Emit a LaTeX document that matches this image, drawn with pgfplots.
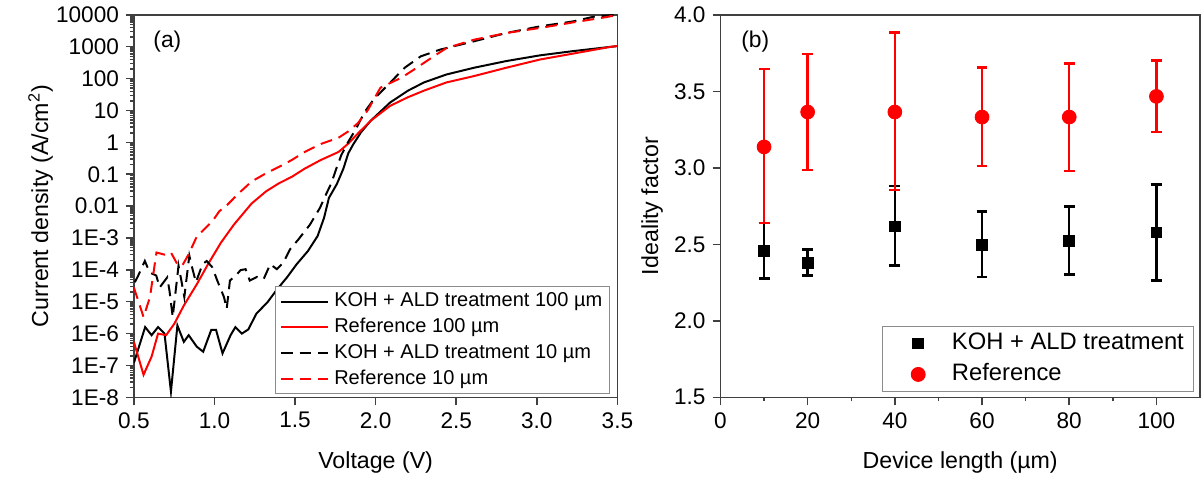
\documentclass[border=0pt]{standalone}
\usepackage{pgfplots}
\pgfplotsset{compat=1.18}
\usepackage{fontspec}
\setmainfont{Liberation Sans}

\pgfplotsset{
  originframe/.style={
    scale only axis, tick align=outside, tick pos=left,
    major tick length=4pt, minor tick length=2pt,
    axis line style={black!75, line width=0.75pt},
    every tick/.style={black!75, line width=0.75pt},
    every tick label/.append style={font=\fontsize{11.4}{13}\selectfont},
    label style={font=\fontsize{11.7}{14}\selectfont},
  },
}

\begin{document}
% minor ticks of the log axis, 2..9 in every decade
\def\mlist{}
\foreach \e in {-8,...,3}{\foreach \m in {2,...,9}{\xdef\mlist{\ifx\mlist\empty\else\mlist,\fi\m e\e}}}

\begin{tikzpicture}
\path[use as bounding box] (0,0) rectangle (600.5pt,-240.5pt);

% (a) current density vs voltage
\begin{axis}[
  originframe,
  at={(62pt,-200.5pt)}, anchor=south west,
  width=244pt, height=193pt,
  ymode=log, xmin=0.5, xmax=3.5, ymin=1e-8, ymax=1e4,
  xtick={0.5,1.0,1.5,2.0,2.5,3.0,3.5},
  xticklabel style={/pgf/number format/.cd, fixed, fixed zerofill, precision=1, assume math mode=true},
  ytick={1e-8,1e-7,1e-6,1e-5,1e-4,1e-3,0.01,0.1,1,10,100,1000,10000},
  yticklabels={1E-8,1E-7,1E-6,1E-5,1E-4,1E-3,0.01,0.1,1,10,100,1000,10000},
  minor ytick/.expanded=\mlist,
  xlabel={Voltage (V)},
  ylabel={Current density (A/cm\textsuperscript{2})},
  xlabel style={at={(axis description cs:0.5,-0.171)}, anchor=center},
  ylabel style={at={(axis description cs:-0.193,0.5)}, anchor=center},
  legend style={at={(axis description cs:0.984,0.008)}, anchor=south east,
    draw=black!45, line width=0.5pt, font=\fontsize{10.1}{12}\selectfont,
    inner xsep=2pt, inner ysep=1pt,
    nodes={inner sep=1.5pt, text height=7.6pt, text depth=2.4pt},
    cells={anchor=west}},
  legend image code/.code={\path[draw=none] (0pt,0pt) -- (25.5pt,0pt); \draw[#1] (0pt,0pt) -- (24pt,0pt);},
]
\addplot[black, line width=1pt] table {
V J
0.50 1.2e-7
0.57 1.6e-6
0.61 8.9e-7
0.65 1.6e-6
0.69 1.0e-6
0.73 1.5e-8
0.77 1.8e-6
0.81 5.5e-7
0.84 8.9e-7
0.89 3.9e-7
0.93 2.7e-7
0.98 1.3e-6
1.01 1.3e-6
1.05 2.4e-7
1.10 8.9e-7
1.13 1.6e-6
1.17 1.0e-6
1.21 1.35e-6
1.26 4.2e-6
1.33 9.8e-6
1.39 2.5e-5
1.45 5.8e-5
1.51 1.5e-4
1.58 3.9e-4
1.64 1.15e-3
1.68 4.3e-3
1.71 0.018
1.76 0.05
1.80 0.15
1.83 0.45
1.86 0.85
1.91 2.1
1.97 4.8
2.09 17.8
2.20 41.7
2.30 76
2.44 135
2.61 219
2.81 355
3.02 537
3.22 724
3.50 1050
};
\addlegendentry{KOH + ALD treatment 100 µm}

\addplot[red, line width=1pt] table {
V J
0.50 5.5e-7
0.56 5.1e-8
0.61 1.9e-7
0.65 1.0e-6
0.70 8.9e-7
0.75 2.0e-6
0.81 7.6e-6
0.89 3.5e-5
0.96 1.5e-4
1.04 7.1e-4
1.12 2.6e-3
1.23 0.012
1.32 0.029
1.40 0.052
1.48 0.083
1.56 0.15
1.66 0.28
1.77 0.50
1.83 0.91
1.89 1.9
1.97 4.8
2.09 14
2.20 26
2.30 42
2.44 76
2.61 120
2.81 219
3.02 398
3.22 603
3.45 977
3.50 1050
};
\addlegendentry{Reference 100 µm}

\addplot[black, line width=1pt, dash pattern=on 6pt off 3.5pt] table {
V J
0.506 4.1e-5
0.527 6.6e-5
0.568 1.9e-4
0.598 8.3e-5
0.639 6.6e-5
0.660 2.8e-5
0.707 5.8e-5
0.721 2.2e-5
0.741 3.3e-6
0.777 1.35e-4
0.793 5.1e-5
0.813 1.4e-5
0.844 2.8e-4
0.864 1.05e-4
0.885 4.1e-5
0.926 1.5e-4
0.952 1.9e-4
0.987 1.2e-4
1.014 5.1e-5
1.059 1.4e-5
1.076 6.0e-6
1.096 4.6e-5
1.141 7.4e-5
1.162 9.8e-5
1.193 1.05e-4
1.219 4.6e-5
1.264 6.0e-5
1.305 5.1e-5
1.346 1.5e-4
1.387 1.05e-4
1.428 1.7e-4
1.469 4.4e-4
1.520 8.9e-4
1.592 2.6e-3
1.654 8.7e-3
1.695 0.025
1.725 0.052
1.756 0.15
1.787 0.40
1.828 1.0
1.879 2.7
1.930 8.7
1.990 23
2.070 59
2.180 219
2.280 500
2.400 813
2.610 1480
2.810 2690
3.020 4370
3.220 6170
3.360 8900
3.490 10000
};
\addlegendentry{KOH + ALD treatment 10 µm}

\addplot[red, line width=1pt, dash pattern=on 6pt off 3.5pt] table {
V J
0.50 2.8e-5
0.56 3.3e-6
0.60 1.4e-5
0.64 3.5e-4
0.69 3.0e-4
0.73 3.5e-4
0.77 1.5e-4
0.80 1.35e-4
0.84 3.1e-4
0.89 1.1e-3
0.95 2.2e-3
0.99 3.5e-3
1.03 6.9e-3
1.08 0.011
1.15 0.025
1.23 0.059
1.32 0.107
1.40 0.17
1.48 0.28
1.56 0.50
1.66 0.89
1.77 1.4
1.83 2.2
1.89 4.0
1.95 10
2.03 52
2.16 107
2.24 195
2.36 500
2.44 912
2.61 1660
2.81 2690
3.02 3890
3.22 5750
3.43 8500
3.50 10000
};
\addlegendentry{Reference 10 µm}

\node[anchor=west, font=\fontsize{11.5}{14}\selectfont] at (rel axis cs:0.026,0.93) {(a)};
\end{axis}

% (b) ideality factor vs device length
\begin{axis}[
  originframe,
  at={(358pt,-200.5pt)}, anchor=south west,
  width=242pt, height=193pt,
  xmin=0, xmax=110, ymin=1.5, ymax=4,
  xtick={0,20,40,60,80,100}, minor x tick num=1,
  ytick={1.5,2.0,2.5,3.0,3.5,4.0},
  xticklabel style={/pgf/number format/assume math mode=true},
  yticklabel style={/pgf/number format/.cd, fixed, fixed zerofill, precision=1, assume math mode=true},
  xlabel={Device length (µm)},
  ylabel={Ideality factor},
  xlabel style={at={(axis description cs:0.5,-0.171)}, anchor=center},
  ylabel style={at={(axis description cs:-0.1426,0.5)}, anchor=center},
  legend style={at={(axis description cs:0.988,0.013)}, anchor=south east,
    draw=black!45, line width=0.5pt, font=\fontsize{12}{14}\selectfont,
    inner xsep=3pt, inner ysep=1pt,
    nodes={inner ysep=2pt, inner xsep=2pt, text height=9pt, text depth=2.6pt},
    cells={anchor=west}},
  legend image code/.code={\path[draw=none] (0pt,0pt) -- (30pt,0pt); \path[#1, draw=none] plot[only marks] coordinates {(15pt,0pt)};},
  error bars/y dir=both, error bars/y explicit,
]
\addplot[black, only marks, mark=square*, mark size=2.75pt, mark options={draw=black, fill=black},
  error bars/error bar style={line width=1.25pt, black},
  error bars/error mark options={rotate=90, mark size=2.75pt, line width=1.25pt, black}]
  coordinates {
  (10,2.458) += (0,0.182) -= (0,0.182)
  (20,2.378) += (0,0.087) -= (0,0.082)
  (40,2.617) += (0,0.264) -= (0,0.256)
  (60,2.497) += (0,0.217) -= (0,0.210)
  (80,2.523) += (0,0.224) -= (0,0.221)
  (100,2.578) += (0,0.314) -= (0,0.313)
};
\addlegendentry{KOH + ALD treatment}

\addplot[red, only marks, mark=*, mark size=3.5pt, mark options={draw=red, fill=red},
  error bars/error bar style={line width=1.25pt, red},
  error bars/error mark options={rotate=90, mark size=2.75pt, line width=1.25pt, red}]
  coordinates {
  (10,3.137) += (0,0.510) -= (0,0.499)
  (20,3.365) += (0,0.379) -= (0,0.380)
  (40,3.365) += (0,0.520) -= (0,0.510)
  (60,3.332) += (0,0.325) -= (0,0.321)
  (80,3.332) += (0,0.351) -= (0,0.351)
  (100,3.467) += (0,0.234) -= (0,0.232)
};
\addlegendentry{Reference}

\node[anchor=west, font=\fontsize{11.5}{14}\selectfont] at (rel axis cs:0.029,0.93) {(b)};
\end{axis}
\end{tikzpicture}
\end{document}
